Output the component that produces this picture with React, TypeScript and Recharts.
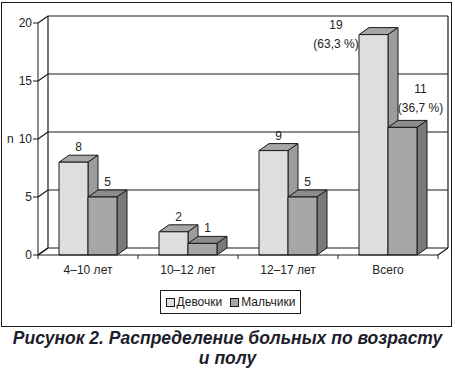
import React from 'react';
import { BarChart, Bar, XAxis, YAxis, CartesianGrid, LabelList } from 'recharts';

const categories = ['4–10 лет', '10–12 лет', '12–17 лет', 'Всего'];
const girls = [8, 2, 9, 19];
const boys = [5, 1, 5, 11];
const girlsShare = ['', '', '', '(63,3 %)'];
const boysShare = ['', '', '', '(36,7 %)'];
const yTicks = [0, 5, 10, 15, 20];

const data = categories.map((name, i) => ({ name, girls: girls[i], boys: boys[i] }));

// 3D depth of the bars and the back wall
const DX = 10;
const DY = 7;
const INK = '#1a1a1a';
const FONT = '"Liberation Sans", Arial, sans-serif';

const make3D = (front: string, top: string, side: string) => (props: any) => {
  const { x, y, width: w, height: h } = props;
  if (!w || h == null) return null;
  return (
    <g stroke={INK} strokeWidth={1} strokeLinejoin="round">
      <polygon points={`${x},${y} ${x + DX},${y - DY} ${x + w + DX},${y - DY} ${x + w},${y}`} fill={top} />
      <polygon points={`${x + w},${y} ${x + w + DX},${y - DY} ${x + w + DX},${y + h - DY} ${x + w},${y + h}`} fill={side} />
      <rect x={x} y={y} width={w} height={h} fill={front} />
    </g>
  );
};

const labelStyle = { fontFamily: FONT, fontSize: 12, fill: '#222' };

const girlsLabel = (props: any) => {
  const { x, y, width, value, index } = props;
  const share = girlsShare[index];
  if (share) {
    const cx = x - 23;
    return (
      <text textAnchor="middle" style={labelStyle}>
        <tspan x={cx} y={y - 6}>{value}</tspan>
        <tspan x={cx} y={y + 13}>{share}</tspan>
      </text>
    );
  }
  return <text x={x + width / 2 + 5} y={y - 11} textAnchor="middle" style={labelStyle}>{value}</text>;
};

const boysLabel = (props: any) => {
  const { x, y, width, value, index } = props;
  const share = boysShare[index];
  if (share) {
    const cx = x + width / 2 + 18;
    return (
      <text textAnchor="middle" style={labelStyle}>
        <tspan x={cx} y={y - 34}>{value}</tspan>
        <tspan x={cx} y={y - 15}>{share}</tspan>
      </text>
    );
  }
  return <text x={x + width / 2 + 5} y={y - 11} textAnchor="middle" style={labelStyle}>{value}</text>;
};

const gridH = (props: any) => {
  const { x1, x2, y1 } = props;
  return (
    <g key={`h${y1}`}>
      <line x1={x1} y1={y1} x2={x1 + DX} y2={y1 - DY} stroke={INK} strokeWidth={1.2} />
      <line x1={x1 + DX} y1={y1 - DY} x2={x2 + DX} y2={y1 - DY} stroke={INK} strokeWidth={1.2} />
    </g>
  );
};

const gridV = (props: any) => {
  const { x1, y1, y2 } = props;
  return (
    <g key={`v${x1}`}>
      <line x1={x1 + DX} y1={y1 - DY} x2={x1 + DX} y2={y2 - DY} stroke={INK} strokeWidth={1.2} />
      <line x1={x1} y1={y2} x2={x1 + DX} y2={y2 - DY} stroke={INK} strokeWidth={1.2} />
    </g>
  );
};

const TICK_SIZE = 4;
const TICK_MARGIN = 6;

const CategoryTick = (props: any) => {
  const { x, y, payload, index } = props;
  const half = payload?.offset ?? 50;
  const axisY = y - TICK_SIZE - TICK_MARGIN;
  return (
    <g>
      <line x1={x - half} y1={axisY} x2={x - half} y2={axisY + TICK_SIZE} stroke={INK} />
      {index === categories.length - 1 && (
        <line x1={x + half} y1={axisY} x2={x + half} y2={axisY + TICK_SIZE} stroke={INK} />
      )}
      <text x={x} y={y} dy="0.71em" textAnchor="middle" style={labelStyle}>{payload.value}</text>
    </g>
  );
};

const Swatch = ({ color }: { color: string }) => (
  <span style={{ display: 'inline-block', width: 7, height: 7, background: color, border: `1px solid ${INK}`, marginRight: 2 }} />
);

export default function App() {
  return (
    <div style={{ position: 'absolute', left: 0, top: 0, width: 455, height: 368, background: '#fff', fontFamily: FONT }}>
      <div style={{ position: 'absolute', left: 1, top: 2, width: 451, height: 325, boxSizing: 'border-box', border: `1.5px solid ${INK}` }} />
      <div style={{ position: 'absolute', left: 0, top: 0 }}>
        <BarChart width={455} height={290} data={data} margin={{ top: 23, right: 17, left: 0, bottom: 0 }} barSize={29} barGap={0}>
          <CartesianGrid
            horizontal={gridH}
            vertical={gridV}
            verticalCoordinatesGenerator={({ offset }: any) => [offset.left, offset.left + offset.width]}
          />
          <XAxis
            dataKey="name"
            height={35}
            interval={0}
            tickSize={TICK_SIZE}
            tickMargin={TICK_MARGIN}
            tickLine={false}
            axisLine={{ stroke: INK }}
            tick={<CategoryTick />}
          />
          <YAxis
            width={38}
            domain={[0, 20]}
            ticks={yTicks}
            tickSize={5}
            tickMargin={1}
            axisLine={{ stroke: INK }}
            tickLine={{ stroke: INK }}
            tick={{ ...labelStyle }}
            label={{ value: 'n', position: 'insideLeft', offset: 7, style: labelStyle }}
          />
          <Bar dataKey="girls" isAnimationActive={false} shape={make3D('#dedede', '#a6a6a6', '#9c9c9c')}>
            <LabelList dataKey="girls" content={girlsLabel} />
          </Bar>
          <Bar dataKey="boys" isAnimationActive={false} shape={make3D('#a7a7a7', '#8c8c8c', '#7a7a7a')}>
            <LabelList dataKey="boys" content={boysLabel} />
          </Bar>
        </BarChart>
      </div>
      <div style={{ position: 'absolute', left: 160, top: 290, width: 141, height: 24, boxSizing: 'border-box', border: `1px solid ${INK}`, display: 'flex', alignItems: 'center', justifyContent: 'center', fontSize: 12, color: '#222', gap: 8 }}>
        <span style={{ display: 'flex', alignItems: 'center' }}><Swatch color="#dedede" />Девочки</span>
        <span style={{ display: 'flex', alignItems: 'center' }}><Swatch color="#a7a7a7" />Мальчики</span>
      </div>
      <div style={{ position: 'absolute', left: 0, top: 328, width: 455, textAlign: 'center', fontWeight: 'bold', fontStyle: 'italic', fontSize: 17.5, lineHeight: '20px', color: '#1d1d2b' }}>
        Рисунок 2. Распределение больных по возрасту<br />и полу
      </div>
    </div>
  );
}
